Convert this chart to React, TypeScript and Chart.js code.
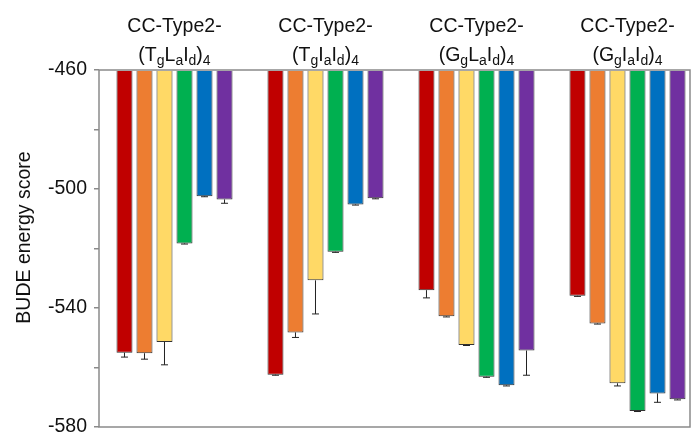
import { useEffect, useRef } from 'react';
import { Chart, registerables } from 'chart.js';

Chart.register(...registerables);

// ---------- data ----------
const titlePrefix = 'CC-Type2-';
// "_" marks the next character as a subscript
const categories = ['(T_gL_aI_d)_4', '(T_gI_aI_d)_4', '(G_gL_aI_d)_4', '(G_gI_aI_d)_4'];

const seriesNames = ['Series 1', 'Series 2', 'Series 3', 'Series 4', 'Series 5', 'Series 6'];
const seriesColors = ['#C00000', '#ED7D31', '#FFD966', '#00B050', '#0070C0', '#7030A0'];

const redValues = [-555.0, -562.4, -534.0, -535.9];
const orangeValues = [-555.2, -548.2, -542.8, -545.2];
const yellowValues = [-551.4, -530.7, -552.4, -565.3];
const greenValues = [-518.3, -521.1, -563.1, -574.6];
const blueValues = [-502.4, -505.2, -566.0, -568.7];
const purpleValues = [-503.5, -503.1, -554.3, -570.7];

const redErrors = [1.5, 0.2, 2.6, 0.2];
const orangeErrors = [2.0, 1.7, 0.2, 0.2];
const yellowErrors = [7.7, 11.3, 0.2, 0.9];
const greenErrors = [0.2, 0.2, 0.2, 0.2];
const blueErrors = [0.2, 0.2, 0.2, 3.0];
const purpleErrors = [1.3, 0.2, 8.3, 0.2];

const seriesValues = [redValues, orangeValues, yellowValues, greenValues, blueValues, purpleValues];
const seriesErrors = [redErrors, orangeErrors, yellowErrors, greenErrors, blueErrors, purpleErrors];

const barBase = -460;
const yMin = -580;
const yMax = -460;
const yStep = 20;
const yTickLabels = [-460, -500, -540, -580];
const yAxisTitle = 'BUDE energy score';

// ---------- styling ----------
const FONT = '"Liberation Sans", Arial, Helvetica, sans-serif';
const TEXT_COLOR = '#111';
const AXIS_COLOR = '#8a8a8a';

function parseSegments(s: string) {
  const segs: { t: string; sub: boolean }[] = [];
  for (let i = 0; i < s.length; i++) {
    if (s[i] === '_' && i + 1 < s.length) {
      segs.push({ t: s[i + 1], sub: true });
      i++;
    } else {
      segs.push({ t: s[i], sub: false });
    }
  }
  return segs;
}

const customPlugin = {
  id: 'customDecor',
  afterDatasetsDraw(chart: any) {
    const ctx = chart.ctx;
    const yScale = chart.scales.y;
    const area = chart.chartArea;
    // error bars
    ctx.save();
    ctx.strokeStyle = '#222';
    ctx.lineWidth = 1;
    chart.data.datasets.forEach((ds: any, di: number) => {
      const meta = chart.getDatasetMeta(di);
      meta.data.forEach((el: any, i: number) => {
        const err = seriesErrors[di][i];
        if (!err) return;
        const v = seriesValues[di][i];
        const y1 = el.y;
        const y2 = yScale.getPixelForValue(v - err);
        ctx.beginPath();
        ctx.moveTo(el.x, y1);
        ctx.lineTo(el.x, y2);
        ctx.moveTo(el.x - 3.5, y2);
        ctx.lineTo(el.x + 3.5, y2);
        ctx.stroke();
      });
    });
    ctx.restore();
    // frame
    ctx.save();
    ctx.strokeStyle = AXIS_COLOR;
    ctx.lineWidth = 1.5;
    ctx.strokeRect(area.left, area.top, area.right - area.left, area.bottom - area.top);
    ctx.restore();
  },
  afterDraw(chart: any) {
    const ctx = chart.ctx;
    const xScale = chart.scales.x;
    const area = chart.chartArea;
    ctx.save();
    ctx.fillStyle = TEXT_COLOR;
    ctx.textBaseline = 'alphabetic';
    const mainFont = `19.5px ${FONT}`;
    const subFont = `14px ${FONT}`;
    categories.forEach((cat, i) => {
      const cx = xScale.getPixelForValue(i + 1);
      // line 1
      ctx.font = mainFont;
      ctx.textAlign = 'center';
      ctx.fillText(titlePrefix, cx, area.top - 38);
      // line 2 with subscripts
      const segs = parseSegments(cat);
      let total = 0;
      const widths = segs.map((s) => {
        ctx.font = s.sub ? subFont : mainFont;
        const w = ctx.measureText(s.t).width;
        total += w;
        return w;
      });
      let x = cx - total / 2;
      ctx.textAlign = 'left';
      segs.forEach((s, k) => {
        ctx.font = s.sub ? subFont : mainFont;
        ctx.fillText(s.t, x, area.top - 9 + (s.sub ? 4 : 0));
        x += widths[k];
      });
    });
    // y axis title
    ctx.font = mainFont;
    ctx.textAlign = 'center';
    ctx.translate(30, (area.top + area.bottom) / 2 - 11);
    ctx.rotate(-Math.PI / 2);
    ctx.fillText(yAxisTitle, 0, 0);
    ctx.restore();
  },
};

export default function App() {
  const ref = useRef<HTMLCanvasElement | null>(null);

  useEffect(() => {
    if (!ref.current) return;
    const datasets = seriesNames.map((name, si) => ({
      label: name,
      data: categories.map((_, i) => ({ x: i + 1, y: seriesValues[si][i] })),
      backgroundColor: seriesColors[si],
      borderColor: '#333',
      borderWidth: 1,
      borderSkipped: 'start',
      base: barBase,
      categoryPercentage: 0.795,
      barPercentage: 0.8,
    }));
    const chart = new Chart(ref.current, {
      type: 'bar',
      data: { datasets } as any,
      options: {
        animation: false,
        responsive: false,
        devicePixelRatio: 1,
        layout: { padding: { top: 70, right: 3, bottom: 5, left: 0 } },
        plugins: {
          legend: { display: false },
          tooltip: { enabled: false },
          title: { display: false },
        },
        scales: {
          x: {
            type: 'linear',
            display: false,
            offset: false,
            bounds: 'data',
            grace: 0,
            min: 0.5,
            max: 4.414,
            grid: { offset: false },
            ticks: { stepSize: 1, includeBounds: false },
          },
          y: {
            min: yMin,
            max: yMax,
            border: { display: false },
            grid: {
              drawOnChartArea: false,
              drawTicks: true,
              tickLength: 5,
              color: AXIS_COLOR,
              lineWidth: 1.5,
            },
            ticks: {
              stepSize: yStep,
              padding: 7,
              color: TEXT_COLOR,
              font: { family: FONT, size: 19.5 },
              callback: (v: any) => (yTickLabels.includes(Number(v)) ? String(v) : ''),
            },
            afterFit: (s: any) => {
              s.width = 99;
              s.paddingTop = 0;
              s.paddingBottom = 0;
            },
          },
        },
      } as any,
      plugins: [customPlugin],
    });
    return () => chart.destroy();
  }, []);

  return (
    <div style={{ position: 'fixed', left: 0, top: 0, width: 693, height: 432, background: '#fff' }}>
      <canvas ref={ref} width={693} height={432} />
    </div>
  );
}
